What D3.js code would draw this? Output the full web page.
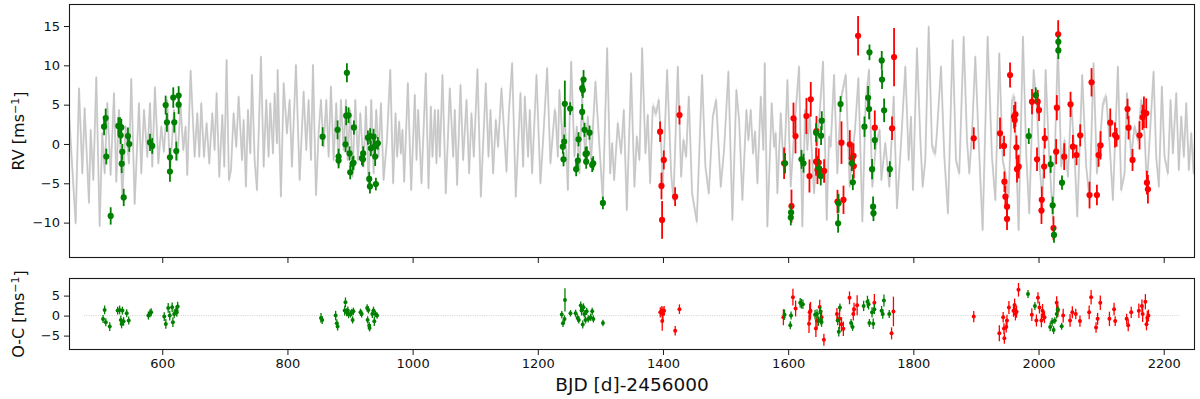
<!DOCTYPE html>
<html><head><meta charset="utf-8">
<script src="https://cdn.jsdelivr.net/npm/d3@7"></script>
<style>
body{margin:0;background:#fff}
svg{display:block;font-family:"DejaVu Sans",sans-serif}
</style>
</head><body>
<svg id="c" width="1200" height="399"></svg>
<script>
// ---------------- DATA ----------------
const xTicks = [600, 800, 1000, 1200, 1400, 1600, 1800, 2000, 2200];
const rvTicks = [-10, -5, 0, 5, 10, 15];
const ocTicks = [-5, 0, 5];
const xDomain = [451, 2250];
const rvDomain = [-14.5, 17.8];
const ocDomain = [-8.6, 9.4];
const zeroLineRange = [475, 2225];
const modelSigma = 0.6;

// model curve [day, rv]
const modelCurve = [
[451.0,3.90],[461.6,-10.08],[467.0,7.07],[472.3,-3.73],[476.0,4.53],[482.9,-7.46],[485.6,1.78],[489.9,-4.57],[494.6,8.47],[500.0,-10.42],
[504.2,1.36],[508.0,-3.73],[512.2,5.17],[517.5,-3.94],[522.9,6.44],[526.6,-4.79],[530.8,4.32],[536.2,-6.69],[541.5,2.20],[546.8,-2.46],
[550.5,8.26],[555.9,-7.62],[562.8,5.17],[566.5,-3.73],[570.8,4.32],[576.1,-1.61],[580.4,5.17],[584.1,-2.88],[588.3,7.20],[593.7,-2.46],
[598.5,2.20],[602.7,-0.97],[608.0,5.59],[612.3,-3.73],[618.7,4.32],[624.0,-2.03],[629.3,4.74],[633.6,-0.76],[637.3,2.20],[640.0,-3.94],
[645.3,9.32],[651.7,-1.61],[656.0,3.90],[659.2,-1.61],[662.3,5.17],[666.6,-1.61],[670.9,2.63],[675.1,-2.46],[679.9,3.90],[683.6,-0.76],
[686.8,6.44],[691.1,-4.15],[695.9,3.69],[699.1,-2.88],[702.8,10.68],[706.5,-4.57],
[709.8,-3.30],[714.0,3.90],[718.3,-0.34],[722.0,6.02],[727.4,-2.03],[730.0,3.05],[733.7,-5.42],[736.9,4.32],[740.7,-1.19],[743.3,8.77],
[747.6,-2.03],[751.3,-5.85],[757.7,11.10],[762.0,-2.88],[766.2,5.59],[769.9,-1.61],[772.6,5.17],[776.9,-1.19],[779.5,6.44],[783.3,0.09],
[784.3,9.40],[789.6,-6.69],[794.0,7.71],[799.2,1.36],[803.5,5.59],[807.2,-2.88],[813.6,10.04],[819.5,-4.57],[825.9,6.65],[830.1,-0.76],
[833.8,5.59],[837.6,-2.03],[840.8,10.04],[845.6,-6.48],[849.8,1.36],[853.5,5.59],[857.8,-0.34],[862.1,5.59],[865.8,-1.61],[869.5,7.29],
[873.8,-2.03],[878.0,5.17],[881.8,-2.88],[885.5,5.59],[889.7,-0.76],[893.5,5.59],[896.1,-2.03],[900.4,4.32],[904.1,-4.15],[908.4,5.59],
[912.6,-2.03],[916.4,3.90],[921.7,-2.88],[925.4,4.74],[929.7,-5.00],[933.9,5.59],[937.7,-3.73],[941.9,4.32],[945.6,-1.61],[949.4,5.17],
[953.6,-4.57],[959.0,0.51],[964.3,9.40],
[968.9,-5.0],[972.7,3.90],[975.3,-1.61],[978.5,2.84],[981.2,-1.19],[983.8,1.78],[986.5,-4.79],[992.4,7.71],[997.7,-5.85],[1003.5,6.23],
[1006.2,-2.03],[1008.9,4.32],[1014.2,-5.0],[1021.1,8.98],[1025.4,-5.63],[1029.1,4.74],[1031.7,-1.61],[1035.5,4.32],[1038.1,-2.46],[1040.8,4.32],
[1043.5,-1.61],[1047.7,8.77],[1053.0,-6.27],[1059.4,7.07],[1064.8,-1.61],[1067.4,4.32],[1071.1,-5.21],[1076.5,7.50],[1080.7,-2.03],[1086.1,5.59],
[1090.3,-3.73],[1094.0,3.90],[1097.8,-1.61],[1103.6,9.49],[1109.0,-6.69],[1116.9,7.71],[1121.2,-1.61],[1124.4,4.32],[1128.6,-3.73],[1132.9,3.05],
[1136.6,-0.34],[1142.0,7.07],[1150.0,-3.52],[1153.7,3.90],[1159.0,10.25],[1164.8,-6.69],[1172.3,6.44],[1176.6,-2.88],[1179.2,6.02],[1184.5,-1.61],
[1187.2,4.32],[1190.9,-3.73],[1197.9,8.77],[1204.2,-5.0],[1208.5,0.51],[1214.9,9.62],[1220.2,-2.46],[1227.1,4.32],
[1228.3,3.90],[1232.0,-1.61],[1234.6,6.86],[1240.0,-0.34],[1242.6,4.74],[1248.0,-5.85],[1253.3,10.46],[1258.6,-1.61],[1262.3,2.20],[1266.6,-3.73],
[1270.9,6.02],[1275.6,-1.61],[1279.9,3.47],[1285.2,-2.03],[1292.1,7.92],[1298.5,-0.34],[1303.9,-7.12],[1310.8,12.16],[1315.6,-3.73],[1318.8,0.09],
[1322.0,-4.57],[1327.8,2.63],[1333.1,-1.19],[1337.4,4.32],[1342.2,-8.39],[1349.1,8.98],[1354.4,-5.42],[1358.2,0.93],[1362.4,-2.03],[1366.7,12.16],
[1372.0,-1.19],[1375.7,3.69],[1379.5,-5.0],[1383.7,4.74],[1389.0,3.90],[1393.3,5.59],[1397.0,0.09],[1399.7,-5.42],[1406.6,9.40],[1413.0,-3.73],
[1416.7,-7.12],[1423.7,9.83],[1429.0,-4.15],[1432.7,0.51],[1437.0,-1.61],[1441.2,6.02],[1446.5,-6.27],[1454.0,-9.87],[1462.5,8.77],[1467.8,-2.88],
[1473.2,-6.27],[1479.6,3.47],[1484.9,5.59],
[1492.3,-5.42],[1497.6,-0.76],[1504.5,9.19],[1510.9,-9.66],[1517.3,6.86],[1521.6,3.05],[1526.9,-7.12],[1533.3,4.32],[1536.5,0.51],[1540.2,4.32],
[1543.9,-1.19],[1547.1,1.57],[1550.9,-5.0],[1556.2,6.02],[1560.4,-0.76],[1562.6,10.25],[1566.8,-10.50],[1573.7,5.17],[1577.5,-0.34],[1580.1,1.36],
[1582.8,-6.27],[1588.1,3.90],[1593.4,-3.73],[1598.8,8.13],[1604.1,-5.42],[1609.4,1.36],[1617.4,9.83],[1622.7,-10.50],[1627.0,4.32],[1630.7,-0.76],
[1634.4,3.90],[1641.4,-6.27],[1646.7,0.09],[1649.3,2.63],[1655.7,10.46],[1661.6,-9.66],[1665.3,0.93],[1668.0,-0.34],[1673.3,8.77],[1678.6,-3.73],
[1684.0,5.59],[1692.0,8.77],[1698.3,-5.42],[1702.6,-1.19],[1706.8,1.78],[1712.2,8.35],[1718.6,-9.87],[1723.9,5.59],[1729.2,9.40],[1734.5,-5.42],
[1739.9,-0.34],[1746.2,1.78],
[1748.9,-4.57],[1755.2,0.09],[1761.6,-5.42],[1768.6,6.02],[1773.9,-8.18],[1780.3,0.09],[1787.2,9.83],[1792.5,-2.03],[1796.2,3.47],[1799.4,-5.85],
[1805.8,12.16],[1811.2,0.51],[1814.9,-5.42],[1819.1,-2.03],[1824.5,14.91],[1829.8,-0.34],[1835.1,-1.19],[1837.8,1.57],[1844.2,9.83],[1849.5,-1.61],
[1855.3,-8.81],[1862.8,13.22],[1868.1,-2.03],[1873.4,-3.73],[1880.4,13.64],[1885.7,0.51],[1889.4,-3.73],[1893.7,1.36],[1899.0,11.10],[1904.3,0.51],
[1910.7,-10.93],[1918.7,13.64],[1925.6,-1.61],[1931.0,-7.12],[1937.3,11.52],[1942.7,-2.03],[1946.9,-3.73],[1952.2,-6.69],[1957.6,5.59],[1961.3,6.02],
[1968.2,-10.93],[1975.1,13.64],[1980.5,-1.61],[1985.2,-8.81],[1992.2,9.40],[1997.5,4.32],[2001.7,-2.88],[2006.5,-7.12],
[2011.3,9.40],[2016.6,-0.76],[2023.0,-9.66],[2031.0,12.37],[2036.3,-2.88],[2041.6,0.51],[2047.0,-4.15],[2052.3,5.59],[2057.6,-1.61],[2061.9,-9.23],
[2069.8,8.77],[2076.2,-2.88],[2081.6,-7.12],[2087.9,10.25],[2093.3,-3.73],[2097.5,-0.34],[2102.9,5.17],[2108.2,6.02],[2113.5,0.09],[2118.8,-7.12],
[2126.8,9.83],[2132.1,-5.85],[2137.5,-3.73],[2141.2,6.44],[2148.1,-1.61],[2153.4,2.20],[2158.8,0.51],[2164.1,5.59],[2169.4,1.36],[2173.1,-5.42],
[2177.4,0.51],[2183.8,9.19],[2188.0,-1.61],[2192.3,-5.42],[2197.1,7.29],[2201.3,-1.61],[2206.7,-3.73],[2210.9,5.59],[2214.7,-1.19],[2220.0,6.44],
[2224.2,-3.30],[2228.0,3.47],[2232.2,-1.61],[2236.0,5.17],[2240.2,-3.30],[2244.0,1.36],[2247.7,-3.73],[2249.8,0.51]
];

// green instrument RVs [day, rv, err]
const greenRV = [
[507.0,2.2,1.1],[509.6,3.3,1.2],[510.6,-1.6,1.0],[517.6,-9.15,1.1],[529.8,2.3,1.1],[532.5,2.2,1.2],[534.6,2.1,1.1],[533.6,1.1,1.1],
[536.1,-1.0,1.0],[535.2,-2.5,1.2],[538.4,-6.8,1.1],[545.2,1.0,1.1],[547.3,0.0,1.0],[580.4,0.2,1.1],[584.0,-0.25,1.0],
[605.4,4.95,1.2],[607.5,2.75,1.2],[612.3,-1.7,1.2],[612.3,-3.5,1.3],[617.6,5.9,1.3],[619.2,2.75,1.3],[622.4,-0.9,1.2],[626.2,6.15,1.2],[626.2,5.0,1.2],
[856.2,0.93,1.2],[880.1,1.8,1.2],[881.7,-1.6,1.0],[881.7,-2.1,1.0],[895.0,9.06,1.2],[893.9,3.6,1.2],[897.7,3.65,1.0],[892.8,-0.05,1.0],
[899.3,-1.2,0.9],[900.3,-3.6,0.9],[904.0,-2.5,0.9],[905.6,-2.4,0.9],[906.2,2.1,0.9],[919.0,-1.8,0.9],[921.0,-1.2,0.9],[920.6,-1.95,0.9],
[928.6,0.8,0.9],[930.7,-4.45,0.9],[931.8,-5.4,0.9],[932.2,1.0,1.0],[933.3,-0.55,1.0],[937.6,0.93,1.0],[939.2,-0.34,1.0],[940.2,-1.6,1.2],
[941.3,-5.1,0.8],[944.5,0.08,0.8],
[1243.2,5.1,2.96],[1251.7,4.5,0.8],[1240.0,-0.34,0.9],[1242.1,0.3,0.9],[1241.1,-1.95,0.9],[1270.9,7.1,1.0],[1273.1,8.2,1.2],[1272.0,6.86,1.0],
[1270.9,4.07,1.0],[1265.1,0.6,0.9],[1274.7,1.8,0.9],[1282.7,1.44,0.9],[1264.0,-2.1,0.9],[1261.3,-3.2,0.9],[1276.3,-1.27,0.9],[1278.4,-1.2,0.9],
[1277.3,-2.25,0.9],[1286.9,-2.67,0.9],[1288.5,-2.45,0.9],[1304.0,-7.5,0.8],
[1595.1,-2.45,1.3],[1604.7,-8.7,1.0],[1604.2,-9.36,1.0],[1621.3,-1.95,1.2],[1624.5,-2.45,1.2],[1644.6,1.44,1.2],[1652.6,1.06,1.2],[1653.7,2.96,1.2],
[1649.4,-3.1,1.2],[1652.1,-4.07,1.2],[1679.8,-10.08,1.2],[1680.5,-7.54,1.2],[1683.7,5.08,1.0],[1701.7,-2.45,1.0],[1703.3,-4.87,1.0],
[1721.9,2.2,1.3],[1727.7,5.88,1.5],[1729.3,4.45,1.3],[1729.9,11.65,1.0],[1734.1,-3.2,1.3],[1735.7,-7.97,1.3],[1736.3,-8.8,1.0],[1738.4,0.5,1.2],
[1749.5,10.63,1.2],[1750.0,8.2,1.2],[1753.3,4.28,1.5],[1762.4,-3.2,1.0],
[1984.4,1.0,1.0],[1995.6,6.2,1.0],[2019.4,-2.58,1.1],[2022.6,-7.8,1.1],[2024.7,-11.56,1.0],[2031.7,13.0,0.8],[2031.7,11.9,1.1],[2037.5,-4.92,0.9]
];

// red instrument RVs [day, rv, err]
const redRV = [
[1395.4,1.56,1.3],[1401.3,-2.03,1.2],[1397.6,-5.34,1.7],[1398.6,-9.66,2.4],[1419.4,-6.7,1.2],[1426.4,3.68,1.2],
[1593.5,-2.45,2.0],[1605.3,-7.9,2.1],[1608.5,3.26,2.0],[1611.7,1.0,2.2],[1629.2,3.56,2.3],[1636.1,5.68,2.2],[1634.0,-4.07,2.1],
[1645.2,1.65,1.9],[1644.6,-2.25,1.8],[1646.8,-3.3,1.8],[1648.9,-2.37,1.8],[1657.4,-3.43,1.5],[1678.8,-7.33,1.5],[1685.2,0.17,2.7],
[1688.4,-7.1,1.8],[1698.5,-0.04,1.8],[1701.7,-1.82,1.6],[1704.4,-1.52,1.6],[1704.9,-2.8,1.6],[1711.7,13.76,2.5],[1738.4,2.07,2.2],
[1769.2,11.05,3.7],[1766.0,1.99,1.5],
[1896.5,0.72,1.4],[1938.5,1.36,2.0],[1944.9,-0.25,1.3],[1945.5,-4.79,1.3],[1947.1,-6.7,1.4],[1949.7,-7.97,1.4],[1949.7,-9.53,1.4],
[1954.5,8.77,1.6],[1960.9,3.47,1.5],[1963.1,3.77,1.6],[1962.0,3.05,1.6],[1964.7,-0.42,1.5],[1965.6,-3.2,1.7],[1968.3,-2.88,1.5],
[1989.6,5.38,1.6],[1998.7,5.38,1.5],[2000.8,4.32,1.4],[1997.6,-1.95,1.5],[2005.2,-7.1,1.7],[2004.7,-8.47,1.7],[2010.1,0.72,1.3],
[2009.0,-2.88,1.5],[2029.3,4.61,1.6],[2028.2,-0.98,1.6],[2023.9,-10.7,1.5],[2031.4,13.94,1.8],[2041.0,-1.61,1.7],[2051.1,5.04,1.6],
[2054.9,-0.34,1.5],[2060.7,-1.4,1.3],[2066.6,1.1,1.4],[2081.5,-6.5,1.7],[2084.7,7.84,1.8],[2093.3,-6.5,1.3],[2095.9,-1.4,1.5],
[2099.1,-0.17,1.8],[2114.6,2.71,1.8],[2122.1,1.14,1.6],[2124.7,0.85,1.2],[2142.2,4.45,1.3],[2143.8,2.07,1.5],[2150.2,-2.03,1.4],
[2161.4,1.1,1.8],[2166.2,3.39,1.6],[2168.4,4.03,2.0],[2172.1,3.9,1.9],[2173.2,-4.92,1.5],[2174.8,-5.76,1.8]
];

// residuals O-C [day, res, err]
const greenOC = [
[505.4,-0.83,1.0],[507.9,1.42,1.1],[509.8,-1.67,1.0],[516.1,-2.75,1.1],[528.7,1.25,1.0],[531.9,1.42,1.1],[533.8,-1.08,1.1],[535.0,-2.08,1.1],
[536.3,1.25,1.0],[538.2,-1.42,1.1],[543.2,0.58,1.0],[546.4,-1.25,1.0],[577.9,0.0,1.0],[580.4,0.58,1.0],[582.3,0.83,1.0],
[603.2,-0.25,1.1],[605.7,-2.08,1.2],[609.5,1.92,1.2],[612.0,0.0,1.2],[615.8,2.08,1.2],[617.0,-1.67,1.2],[619.0,0.42,1.1],[622.1,1.25,1.2],
[624.6,2.25,1.2],[623.3,0.83,1.1],
[853.6,-0.58,1.2],[855.5,-1.08,1.0],[877.0,0.0,1.2],[878.9,-1.92,1.0],[880.1,-2.75,1.0],[892.7,3.33,1.2],[891.5,1.25,1.2],[894.6,0.83,1.0],
[896.5,1.25,1.0],[897.8,0.25,0.9],[900.9,0.42,0.9],[902.8,0.83,0.9],[904.1,-1.08,0.9],[905.4,1.08,0.9],[916.7,0.83,0.9],[918.6,0.42,0.9],
[927.4,1.92,0.9],[929.3,1.42,0.9],[928.1,-1.08,0.9],[930.6,-2.5,0.9],[931.2,-3.08,0.9],[935.6,0.42,1.0],[937.5,1.25,1.0],[938.8,-1.42,1.2],
[940.7,0.42,0.8],[943.2,0.0,0.8],
[1238.3,0.25,0.9],[1240.2,-1.92,0.9],[1242.7,-0.83,0.9],[1243.4,3.92,2.9],[1252.2,0.58,0.8],[1260.4,0.58,0.9],[1263.6,-0.58,0.9],
[1265.5,-1.08,0.9],[1268.6,2.5,1.0],[1269.9,1.25,1.2],[1271.8,-2.25,1.0],[1273.0,2.08,1.0],[1274.3,0.42,0.9],[1276.2,-1.08,0.9],
[1278.1,1.08,0.9],[1280.6,-0.83,0.9],[1284.4,-0.42,0.9],[1286.9,1.08,0.9],[1288.8,-0.83,0.9],[1304.1,-1.85,0.8],
[1594.2,0.24,1.3],[1603.4,-2.42,1.0],[1604.6,0.0,1.0],[1619.2,3.23,1.2],[1621.1,2.98,1.2],[1623.5,2.82,1.2],[1643.0,0.24,1.2],
[1646.1,0.40,1.2],[1648.5,-1.37,1.2],[1651.6,1.05,1.2],[1652.2,-1.05,1.2],[1653.4,-1.61,1.2],[1679.1,-1.21,1.2],[1680.9,-4.03,1.2],
[1682.7,2.02,1.0],[1700.5,-1.85,1.0],[1702.9,-2.82,1.0],[1720.6,2.42,1.3],[1726.7,3.47,1.5],[1728.5,2.82,1.3],[1729.8,-1.85,1.0],
[1734.0,0.81,1.3],[1735.9,-2.02,1.3],[1737.7,1.61,1.2],[1749.3,1.21,1.2],[1751.1,0.40,1.2],[1753.0,3.79,1.5],[1761.5,0.40,1.0],
[1983.2,5.40,1.0],[1994.2,2.42,1.0],[2018.6,-2.82,1.1],[2021.7,-1.61,1.1],[2024.1,-3.63,1.0],[2026.0,-1.21,0.8],[2029.0,0.40,1.1],
[2030.8,1.61,0.9],[2037.0,-2.66,0.9]
];

const redOC = [
[1395.7,0.81,1.3],[1398.2,1.21,1.2],[1400.0,0.40,1.7],[1398.8,-1.37,2.4],[1401.8,1.21,1.2],[1419.5,-3.79,1.2],[1426.3,1.61,1.2],
[1592.4,-0.40,2.0],[1607.6,4.60,2.1],[1611.9,1.77,2.0],[1634.4,0.81,2.2],[1633.3,-2.02,2.3],[1635.7,1.21,2.2],[1644.3,-3.23,2.1],
[1646.1,-1.21,1.9],[1650.4,2.18,1.8],[1653.4,-0.40,1.8],[1657.1,-6.05,1.5],[1677.9,0.40,1.5],[1682.1,-0.81,2.7],[1685.2,-2.18,1.8],
[1688.2,-3.31,1.8],[1698.0,4.44,1.6],[1704.1,0.40,1.6],[1705.3,1.61,1.6],[1710.2,2.58,2.5],[1737.7,3.23,2.2],[1765.2,-4.44,1.5],
[1768.2,1.05,3.7],
[1896.5,-0.24,1.4],[1937.4,-4.44,2.0],[1943.5,-0.40,1.3],[1944.8,-3.23,1.3],[1945.4,-5.65,1.4],[1948.4,-2.82,1.4],[1949.6,-1.21,1.4],
[1952.7,2.02,1.6],[1960.0,1.21,1.5],[1961.8,2.66,1.6],[1963.1,0.40,1.6],[1964.9,0.97,1.5],[1968.0,6.45,1.7],[1989.3,0.24,1.6],
[1996.6,-1.21,1.5],[1999.1,4.44,1.4],[2001.5,2.02,1.5],[2004.6,-1.21,1.7],[2006.4,1.21,1.7],[2007.6,0.16,1.3],[2009.5,-0.40,1.5],
[2029.0,3.23,1.6],[2030.8,1.21,1.6],[2039.4,0.0,1.7],[2050.4,-1.21,1.6],[2054.0,0.81,1.5],[2059.5,0.40,1.3],[2066.2,-1.37,1.4],
[2080.9,0.81,1.7],[2084.0,4.60,1.8],[2091.9,-2.98,1.3],[2094.4,-0.81,1.5],[2098.7,3.23,1.8],[2113.3,-0.81,1.8],[2120.7,1.61,1.6],
[2122.5,-1.37,1.2],[2140.8,-0.81,1.3],[2143.3,-2.42,1.5],[2148.1,0.81,1.4],[2160.3,1.21,1.8],[2165.2,2.42,1.6],[2166.4,0.40,2.0],
[2170.7,3.47,1.9],[2172.5,-2.18,1.5],[2173.8,-0.56,1.8],[2175.6,0.0,1.5]
];

// ---------------- DRAW ----------------
const svg = d3.select("#c");
const L = 69, R = 1195;
const top1 = 4, bot1 = 258, top2 = 278, bot2 = 350;
const GREEN = "#008000", RED = "#ff0000";

const x = d3.scaleLinear().domain(xDomain).range([L, R]);
const y1 = d3.scaleLinear().domain(rvDomain).range([bot1, top1]);
const y2 = d3.scaleLinear().domain(ocDomain).range([bot2, top2]);

const defs = svg.append("defs");
defs.append("clipPath").attr("id","clip1")
  .append("rect").attr("x",L).attr("y",top1).attr("width",R-L).attr("height",bot1-top1);
defs.append("clipPath").attr("id","clip2")
  .append("rect").attr("x",L).attr("y",top2).attr("width",R-L).attr("height",bot2-top2);

// --- top panel ---
const g1 = svg.append("g").attr("clip-path","url(#clip1)");
const mc = modelCurve.slice().sort((a,b)=>a[0]-b[0]);
const lineGen = d3.line().x(d=>x(d[0])).y(d=>y1(d[1]));
g1.append("path").datum(mc)
  .attr("d", d3.area().x(d=>x(d[0])).y0(d=>y1(d[1]-modelSigma)).y1(d=>y1(d[1]+modelSigma)))
  .attr("fill","#d6d6d6").attr("fill-opacity",0.8).attr("stroke","none");
g1.append("path").datum(mc).attr("d", lineGen)
  .attr("fill","none").attr("stroke","#d6d6d6").attr("stroke-width",2.0)
  .attr("stroke-linejoin","round");
g1.append("path").datum(mc).attr("d", lineGen)
  .attr("fill","none").attr("stroke","#c0c0c0").attr("stroke-width",0.8)
  .attr("stroke-linejoin","round");

function drawPoints(g, data, ys, color, r, ew){
  const s = g.append("g");
  s.selectAll("line").data(data).join("line")
    .attr("x1",d=>x(d[0])).attr("x2",d=>x(d[0]))
    .attr("y1",d=>ys(d[1]-d[2])).attr("y2",d=>ys(d[1]+d[2]))
    .attr("stroke",color).attr("stroke-width",ew);
  s.selectAll("circle").data(data).join("circle")
    .attr("cx",d=>x(d[0])).attr("cy",d=>ys(d[1])).attr("r",r)
    .attr("fill",color);
}
drawPoints(g1, redRV, y1, RED, 3.1, 1.8);
drawPoints(g1, greenRV, y1, GREEN, 3.1, 1.8);

// --- bottom panel ---
const g2 = svg.append("g").attr("clip-path","url(#clip2)");
g2.append("line")
  .attr("x1",x(zeroLineRange[0])).attr("x2",x(zeroLineRange[1]))
  .attr("y1",y2(0)).attr("y2",y2(0))
  .attr("stroke","#bbbbbb").attr("stroke-width",0.7).attr("stroke-dasharray","1,1.3");
drawPoints(g2, redOC, y2, RED, 2.0, 1.3);
drawPoints(g2, greenOC, y2, GREEN, 2.0, 1.3);

// --- frames & axes ---
function frame(t,b){
  svg.append("rect").attr("x",L+0.5).attr("y",t+0.5).attr("width",R-L-1).attr("height",b-t-1)
    .attr("fill","none").attr("stroke","#1a1a1a").attr("stroke-width",1.1);
}
frame(top1, bot1);
frame(top2, bot2);

function styleAxis(g){
  g.select(".domain").remove();
  g.selectAll(".tick line").attr("stroke","#1a1a1a").attr("stroke-width",1);
  g.selectAll(".tick text").attr("font-size","13px").attr("fill","#111")
    .attr("font-family","DejaVu Sans, sans-serif");
}
const fmt = d => (d < 0 ? "\u2212" + Math.abs(d) : String(d));

svg.append("g").attr("transform",`translate(0,${bot1})`)
  .call(d3.axisBottom(x).tickValues(xTicks).tickSize(5).tickFormat(""))
  .call(styleAxis);
svg.append("g").attr("transform",`translate(0,${bot2})`)
  .call(d3.axisBottom(x).tickValues(xTicks).tickSize(5).tickPadding(4).tickFormat(fmt))
  .call(styleAxis);
svg.append("g").attr("transform",`translate(${L},0)`)
  .call(d3.axisLeft(y1).tickValues(rvTicks).tickSize(5).tickPadding(4).tickFormat(fmt))
  .call(styleAxis);
svg.append("g").attr("transform",`translate(${L},0)`)
  .call(d3.axisLeft(y2).tickValues(ocTicks).tickSize(5).tickPadding(4).tickFormat(fmt))
  .call(styleAxis);

// --- labels ---
function yLabel(prefix, cy){
  const t = svg.append("text")
    .attr("transform",`translate(24,${cy}) rotate(-90)`)
    .attr("text-anchor","middle").attr("font-size","16px").attr("fill","#111");
  t.append("tspan").text(prefix + " [ms");
  t.append("tspan").attr("dy","-0.45em").attr("font-size","11px").text("\u22121");
  t.append("tspan").attr("dy","0.45em").text("]");
}
yLabel("RV", (top1+bot1)/2);
yLabel("O-C", (top2+bot2)/2);

svg.append("text").attr("x",(L+R)/2).attr("y",391)
  .attr("text-anchor","middle").attr("font-size","18.5px").attr("fill","#111")
  .text("BJD [d]-2456000");
</script>
</body></html>
